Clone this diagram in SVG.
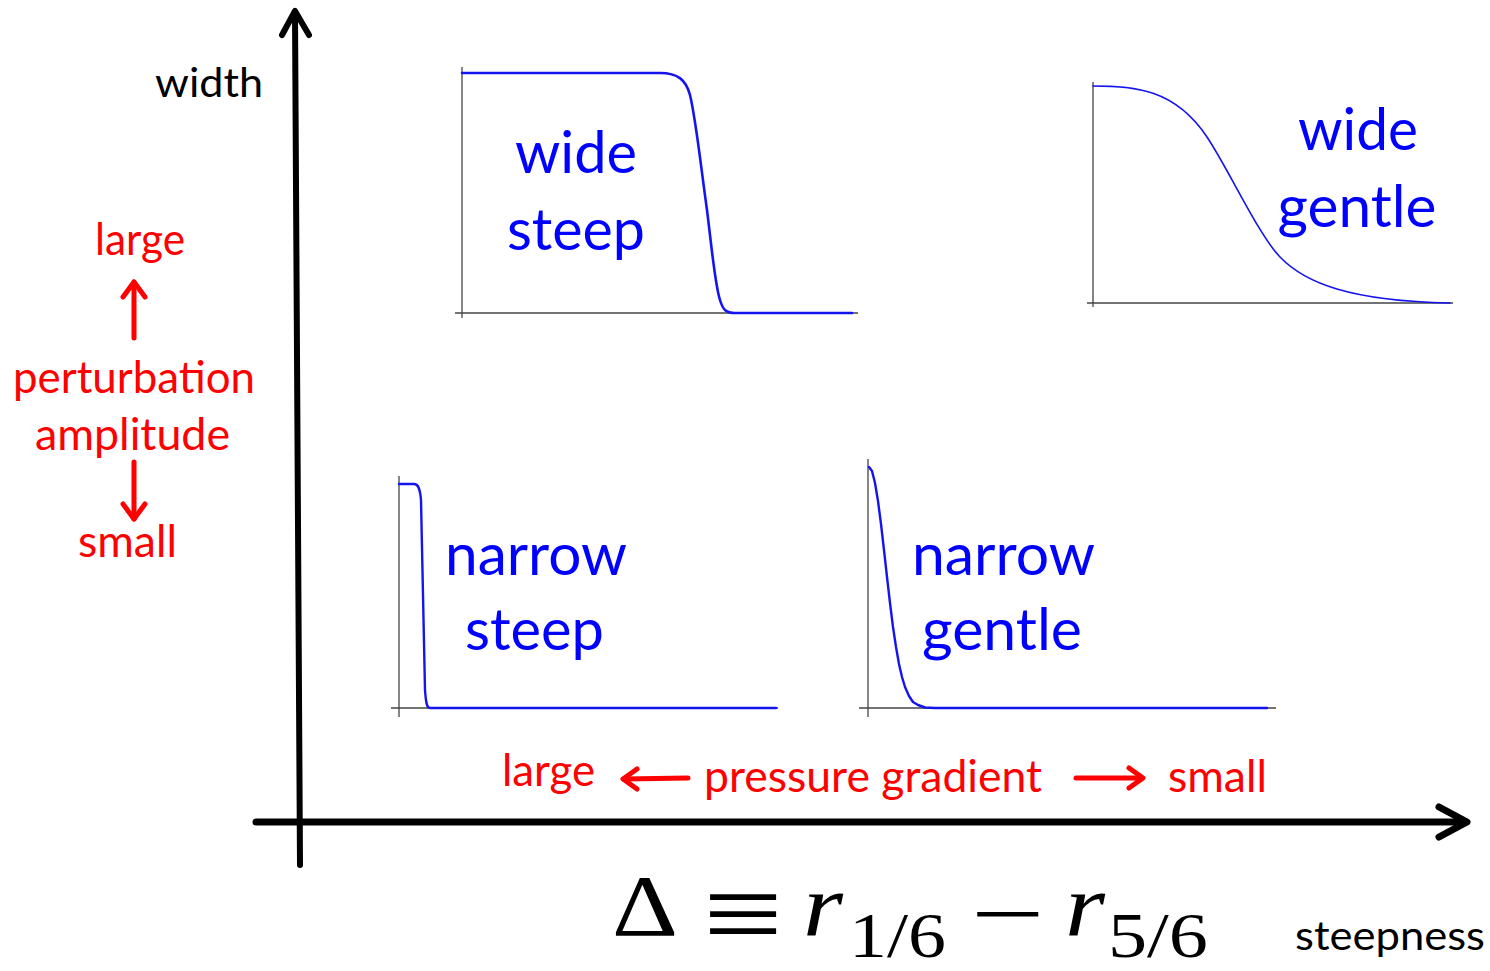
<svg xmlns="http://www.w3.org/2000/svg" width="1490" height="971" viewBox="0 0 1490 971">
<defs>
<style>
.ax{stroke:#000;fill:none;stroke-linecap:round;stroke-linejoin:round}
.pax{stroke:#444;stroke-width:1.3;fill:none}
.crv{stroke:#1414f0;fill:none;stroke-linejoin:round;stroke-linecap:round}
.blue{font-family:Lato,'Open Sans',sans-serif;font-size:58px;fill:#0000ff}
.red{font-family:Lato,'Open Sans',sans-serif;font-size:45px;fill:#ff0000}
.blk{font-family:Lato,'Open Sans',sans-serif;font-size:41px;fill:#000}
.ra{stroke:#ff0000;stroke-width:5;fill:none;stroke-linecap:round;stroke-linejoin:round}
.math{font-family:'Liberation Serif','DejaVu Serif',serif;fill:#000}
</style>
</defs>
<rect width="1490" height="971" fill="#fff"/>
<g id="axes">
<line class="ax" x1="300" y1="865" x2="295" y2="14" stroke-width="6"/>
<polyline class="ax" points="282,35 295,11 309,35" stroke-width="6"/>
<line class="ax" x1="256" y1="822" x2="1464" y2="822" stroke-width="7"/>
<polyline class="ax" points="1439,807 1467,822 1439,837" stroke-width="7"/>
<text class="blk" x="155" y="97" textLength="108" lengthAdjust="spacingAndGlyphs">width</text>
<text class="blk" x="1295" y="950" textLength="190" lengthAdjust="spacingAndGlyphs">steepness</text>
</g>
<g id="plot-wide-steep">
<line class="pax" x1="462" y1="67" x2="462" y2="318"/>
<line class="pax" x1="455" y1="313" x2="858" y2="313"/>
<path class="crv" stroke-width="2.6" d="M462,73 L660,73 C678,73 686,80 690,95 C696,120 700,160 707,210 C712,250 715,285 720,300 C723,310 726,313 735,313 L852,313"/>
<text class="blue" x="576" y="173" text-anchor="middle" textLength="122" lengthAdjust="spacingAndGlyphs">wide</text>
<text class="blue" x="576" y="250" text-anchor="middle" textLength="138" lengthAdjust="spacingAndGlyphs">steep</text>
</g>
<g id="plot-wide-gentle">
<line class="pax" x1="1093" y1="82" x2="1093" y2="307"/>
<line class="pax" x1="1087" y1="303" x2="1453" y2="303"/>
<path class="crv" stroke-width="1.6" d="M1093,86 C1135,86 1175,89 1207,137 C1229,170 1258,234 1280,257 C1305,283 1350,301 1450,303"/>
<text class="blue" x="1358" y="150" text-anchor="middle" textLength="120" lengthAdjust="spacingAndGlyphs">wide</text>
<text class="blue" x="1357" y="227" text-anchor="middle" textLength="159" lengthAdjust="spacingAndGlyphs">gentle</text>
</g>
<g id="plot-narrow-steep">
<line class="pax" x1="399" y1="476" x2="399" y2="717"/>
<line class="pax" x1="391" y1="708" x2="778" y2="708"/>
<path class="crv" stroke-width="2.4" d="M399,484 L414,484 C418,484 420,488 421,500 L425,690 C426,704 427,708 430,708 L776,708"/>
<text class="blue" x="445" y="575" textLength="182" lengthAdjust="spacingAndGlyphs">narrow</text>
<text class="blue" x="465" y="650" textLength="139" lengthAdjust="spacingAndGlyphs">steep</text>
</g>
<g id="plot-narrow-gentle">
<line class="pax" x1="868" y1="459" x2="868" y2="717"/>
<line class="pax" x1="859" y1="708" x2="1276" y2="708"/>
<polyline class="crv" stroke-width="2.4" points="869,467 872,471 875,483 878,501 881,524 884,550 887,577 890,603 893,627 896,647 899,664 902,677 905,687 909,696 913,702 918,705 925,707.5 935,708 1267,708"/>
<text class="blue" x="912" y="575" textLength="183" lengthAdjust="spacingAndGlyphs">narrow</text>
<text class="blue" x="922" y="650" textLength="160" lengthAdjust="spacingAndGlyphs">gentle</text>
</g>
<g id="amplitude-legend">
<text class="red" x="95" y="255" textLength="90" lengthAdjust="spacingAndGlyphs">large</text>
<line class="ra" x1="134" y1="338" x2="134" y2="282"/>
<polyline class="ra" points="123,297 134,282 145,297"/>
<text class="red" x="13" y="393" textLength="242" lengthAdjust="spacingAndGlyphs">perturbation</text>
<text class="red" x="35" y="450" textLength="195" lengthAdjust="spacingAndGlyphs">amplitude</text>
<line class="ra" x1="134" y1="462" x2="134" y2="519"/>
<polyline class="ra" points="123,504 134,519 145,504"/>
<text class="red" x="78" y="557" textLength="99" lengthAdjust="spacingAndGlyphs">small</text>
</g>
<g id="gradient-legend">
<text class="red" x="502" y="786" textLength="93" lengthAdjust="spacingAndGlyphs">large</text>
<line class="ra" x1="688" y1="778" x2="624" y2="779"/>
<polyline class="ra" points="637,769 623,779 637,789"/>
<text class="red" x="704" y="792" textLength="338" lengthAdjust="spacingAndGlyphs">pressure gradient</text>
<line class="ra" x1="1076" y1="778" x2="1142" y2="778"/>
<polyline class="ra" points="1129,768 1143,778 1129,788"/>
<text class="red" x="1168" y="792" textLength="99" lengthAdjust="spacingAndGlyphs">small</text>
</g>
<g id="formula">
<text class="math" x="612" y="935" font-size="86" textLength="66" lengthAdjust="spacingAndGlyphs">Δ</text>
<text class="math" x="703" y="953" font-size="117" textLength="80" lengthAdjust="spacingAndGlyphs">≡</text>
<text class="math" x="803" y="935" font-size="88" font-style="italic" textLength="40" lengthAdjust="spacingAndGlyphs">r</text>
<text class="math" x="849" y="957" font-size="63" textLength="97" lengthAdjust="spacingAndGlyphs">1/6</text>
<text class="math" x="971" y="943" font-size="86" textLength="74" lengthAdjust="spacingAndGlyphs">−</text>
<text class="math" x="1065" y="935" font-size="88" font-style="italic" textLength="40" lengthAdjust="spacingAndGlyphs">r</text>
<text class="math" x="1108" y="957" font-size="63" textLength="100" lengthAdjust="spacingAndGlyphs">5/6</text>
</g>
</svg>
